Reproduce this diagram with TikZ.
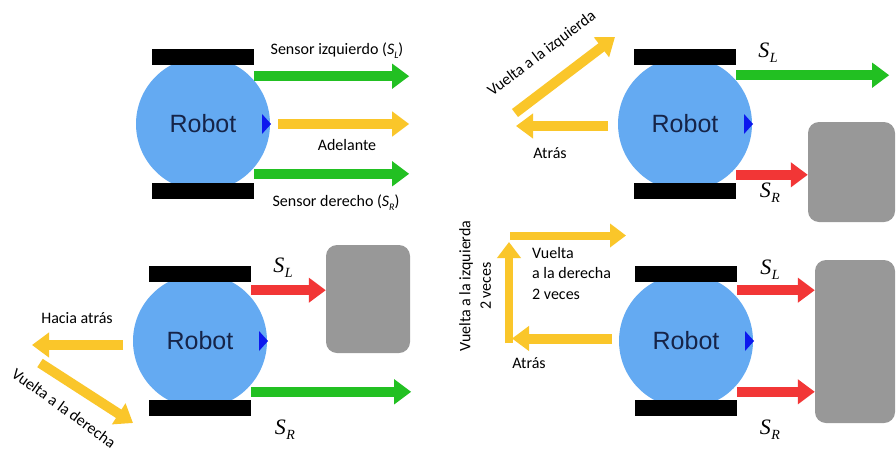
\documentclass[tikz,border=0pt]{standalone}
\usepackage{fontspec}
\setmainfont{Carlito}
\newfontfamily\robotfont{Liberation Sans}
\newfontfamily\sensfont{Liberation Serif}
\usetikzlibrary{arrows.meta}

\definecolor{bodyblue}{RGB}{100,170,242}
\definecolor{textnavy}{RGB}{22,36,72}
\definecolor{arrgreen}{RGB}{34,192,34}
\definecolor{arryellow}{RGB}{250,198,42}
\definecolor{arrred}{RGB}{242,54,54}
\definecolor{wallgray}{RGB}{152,152,152}
\definecolor{noseblue}{RGB}{12,24,238}

% sensor name with a lowered subscript
\newcommand\sensname[2]{{\sensfont\itshape\fontsize{22}{22}\selectfont #1\kern0.5pt\raisebox{-0.22em}{\fontsize{14}{14}\selectfont #2}}}
\newcommand\sensinline[2]{\textit{#1}\raisebox{-0.25em}{\fontsize{10}{10}\selectfont\textit{#2}}}

\tikzset{
  body/.style={circle, fill=bodyblue, minimum size=134pt, inner sep=0pt,
    font=\robotfont\fontsize{25}{25}\selectfont, text=textnavy},
  wheel/.style={rectangle, fill=black, minimum width=102pt, minimum height=16pt, inner sep=0pt},
  wall/.style={rectangle, fill=wallgray, rounded corners=11pt, inner sep=0pt},
  move/.style={line width=10pt, -{Triangle[width=24pt,length=17pt]}},
  thinmove/.style={line width=8pt, -{Triangle[width=23pt,length=16pt]}},
  lbl/.style={font=\fontsize{16}{20.5}\selectfont, inner sep=0pt},
  senslbl/.style={inner sep=0pt},
}

% robot body with its two wheels and the heading mark
\newcommand\robotat[3]{%
  \node[body] (#1) at (#2,#3) {Robot};
  \node[wheel] (#1-lw) at (#2,#3-67) {};
  \node[wheel] (#1-rw) at (#2,#3+67) {};
  \fill[noseblue] (#2+59,#3-10) -- (#2+68,#3) -- (#2+59,#3+10) -- cycle;
}

\begin{document}
\begin{tikzpicture}[x=1pt,y=-1pt]
\useasboundingbox (0,0) rectangle (896,453);
\fill[white] (0,0) rectangle (896,453);

% ---------- sensors and forward motion ----------
\robotat{a}{203}{124}
\draw[move, arrgreen] ([yshift=-11pt]a-lw.south east) -- +(155,0);
\draw[move, arryellow] ([xshift=8pt]a.east) -- +(131,0);
\draw[move, arrgreen] ([yshift=9pt]a-rw.north east) -- +(155,0);
\node[lbl] (a-sl) at (337,51) {Sensor izquierdo (\sensinline{S}{L})};
\node[lbl] (a-fw) at (347,145) {Adelante};
\node[lbl] (a-sr) at (336,203) {Sensor derecho (\sensinline{S}{R})};

% ---------- obstacle on the right ----------
\robotat{b}{685}{124}
\node[wall, minimum width=87pt, minimum height=100pt] (wallb) at (851.5,172) {};
\draw[move, arrgreen] ([yshift=-10pt]b-lw.south east) -- +(153,0);
\coordinate (b-srs) at ([yshift=8pt]b-rw.north east);
\draw[move, arrred] (b-srs) -- (b-srs -| wallb.west);
\node[senslbl] (b-sl) at (768,53) {\sensname{S}{L}};
\node[senslbl] (b-sr) at (770,193) {\sensname{S}{R}};
\coordinate (b-back) at (608,126);
\draw[move, arryellow] (b-back) -- (516,126);
\coordinate (b-ts) at (515,113);
\coordinate (b-te) at (615,37);
\draw[move, arryellow] (b-ts) -- (b-te);
\node[lbl] (b-backl) at (550,153) {Atrás};
\node[lbl, rotate=37] (b-turnl) at (542,54) {Vuelta a la izquierda};

% ---------- obstacle on the left ----------
\robotat{c}{200}{341}
\node[wall, minimum width=84pt, minimum height=108pt] (wallc) at (368,299) {};
\coordinate (c-sls) at ([yshift=-8pt]c-lw.south east);
\draw[move, arrred] (c-sls) -- (c-sls -| wallc.west);
\draw[move, arrgreen] ([yshift=8pt]c-rw.north east) -- +(160,0);
\node[senslbl] (c-sl) at (283,268) {\sensname{S}{L}};
\node[senslbl] (c-sr) at (285,430) {\sensname{S}{R}};
\coordinate (c-back) at (123,345);
\draw[move, arryellow] (c-back) -- (32,345);
\coordinate (c-ts) at (40,363);
\coordinate (c-te) at (133,423);
\draw[move, arryellow] (c-ts) -- (c-te);
\node[lbl] (c-backl) at (77,318) {Hacia atrás};
\node[lbl, rotate=-36] (c-turnr) at (64,408) {Vuelta a la derecha};

% ---------- obstacle in front ----------
\robotat{d}{686}{341}
\node[wall, minimum width=80pt, minimum height=163pt] (walld) at (855,341.5) {};
\coordinate (d-sls) at ([yshift=-8pt]d-lw.south east);
\coordinate (d-srs) at ([yshift=8pt]d-rw.north east);
\draw[move, arrred] (d-sls) -- (d-sls -| walld.west);
\draw[move, arrred] (d-srs) -- (d-srs -| walld.west);
\node[senslbl] (d-sl) at (770,270) {\sensname{S}{L}};
\node[senslbl] (d-sr) at (770,430) {\sensname{S}{R}};
\coordinate (d-back) at (612,338.5);
\coordinate (d-corner) at (509,338.5);
\coordinate (d-up) at (509,242);
\coordinate (d-ts) at (510,235.5);
\coordinate (d-te) at (626,235.5);
\draw[move, arryellow] (d-back) -- ([xshift=3pt]d-corner);
\draw[thinmove, arryellow] ([yshift=-4.5pt]d-corner) -- (d-up);
\draw[thinmove, arryellow] (d-ts) -- (d-te);
\node[lbl, anchor=west, align=left] (d-turnr) at (532,273) {Vuelta\\a la derecha\\2 veces};
\node[lbl] (d-backl) at (529,363) {Atrás};
\node[lbl, rotate=90, align=center] (d-turnl) at (475,286) {Vuelta a la izquierda\\2 veces};
\end{tikzpicture}
\end{document}
